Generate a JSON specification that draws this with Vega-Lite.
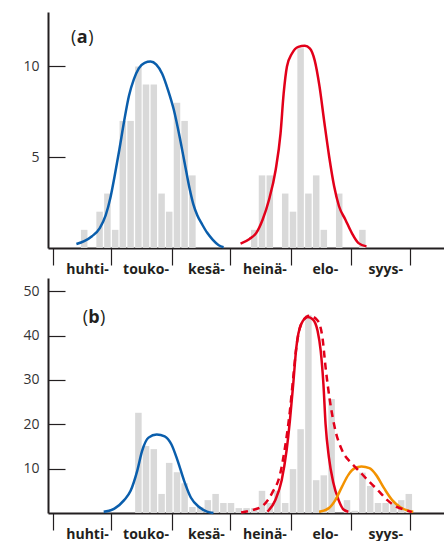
{
  "$schema": "https://vega.github.io/schema/vega-lite/v6.json",
  "padding": {"left": 22, "top": 12, "right": 0, "bottom": 0},
  "autosize": {"type": "pad"},
  "bounds": "flush",
  "spacing": 30,
  "config": {
    "view": {"stroke": null},
    "font": "Open Sans",
    "axis": {"grid": false, "domainColor": "#231f20", "domainWidth": 2, "tickColor": "#231f20", "tickWidth": 1.2, "labelColor": "#333333", "title": null}
  },
  "datasets": {
    "barsA": [
      {"day": 16.0, "n": 1}, {"day": 23.9, "n": 2}, {"day": 27.9, "n": 3}, {"day": 31.9, "n": 1},
      {"day": 35.8, "n": 7}, {"day": 39.8, "n": 7}, {"day": 43.8, "n": 10}, {"day": 47.7, "n": 9},
      {"day": 51.7, "n": 9}, {"day": 55.7, "n": 3}, {"day": 59.6, "n": 2}, {"day": 63.6, "n": 8},
      {"day": 67.5, "n": 7}, {"day": 71.5, "n": 4},
      {"day": 103.2, "n": 1}, {"day": 107.2, "n": 4}, {"day": 111.2, "n": 4}, {"day": 119.1, "n": 3},
      {"day": 123.1, "n": 2}, {"day": 127.0, "n": 11}, {"day": 131.0, "n": 3}, {"day": 135.0, "n": 4},
      {"day": 138.9, "n": 1}, {"day": 146.8, "n": 3}, {"day": 158.7, "n": 1}
    ],
    "barsB": [
      {"day": 43.8, "n": 22.6}, {"day": 47.7, "n": 15.1}, {"day": 51.7, "n": 14.4}, {"day": 55.7, "n": 4.3},
      {"day": 59.6, "n": 11.3}, {"day": 63.6, "n": 9.2}, {"day": 67.5, "n": 6.7}, {"day": 71.5, "n": 1.35},
      {"day": 75.5, "n": 1.35}, {"day": 79.4, "n": 2.9}, {"day": 83.4, "n": 4.3}, {"day": 87.4, "n": 2.25},
      {"day": 91.3, "n": 2.25}, {"day": 95.3, "n": 1.1}, {"day": 99.3, "n": 1.1}, {"day": 103.2, "n": 1.1},
      {"day": 107.2, "n": 5.0}, {"day": 111.2, "n": 2.25}, {"day": 115.1, "n": 5.0}, {"day": 119.1, "n": 2.25},
      {"day": 123.1, "n": 9.9}, {"day": 127.0, "n": 18.9}, {"day": 131.0, "n": 44.6}, {"day": 135.0, "n": 7.4},
      {"day": 138.9, "n": 8.5}, {"day": 142.9, "n": 25.7}, {"day": 150.8, "n": 2.9}, {"day": 154.8, "n": 0.5},
      {"day": 158.7, "n": 9.1}, {"day": 162.7, "n": 6.1}, {"day": 166.7, "n": 2.25}, {"day": 170.6, "n": 2.25},
      {"day": 174.6, "n": 2.25}, {"day": 178.6, "n": 2.9}, {"day": 182.5, "n": 4.3}
    ],
    "curvesA": [
      {"s": "blue", "day": 12, "v": 0.22}, {"s": "blue", "day": 16, "v": 0.38}, {"s": "blue", "day": 20, "v": 0.65},
      {"s": "blue", "day": 24, "v": 1.1}, {"s": "blue", "day": 27, "v": 1.8}, {"s": "blue", "day": 29.5, "v": 2.8},
      {"s": "blue", "day": 31.5, "v": 3.9}, {"s": "blue", "day": 34, "v": 5.4}, {"s": "blue", "day": 36.5, "v": 7.0},
      {"s": "blue", "day": 39, "v": 8.4}, {"s": "blue", "day": 41.5, "v": 9.3}, {"s": "blue", "day": 44, "v": 9.9},
      {"s": "blue", "day": 47, "v": 10.2}, {"s": "blue", "day": 50, "v": 10.27}, {"s": "blue", "day": 53, "v": 10.1},
      {"s": "blue", "day": 56, "v": 9.6}, {"s": "blue", "day": 59, "v": 8.7}, {"s": "blue", "day": 62, "v": 7.6},
      {"s": "blue", "day": 65, "v": 6.1}, {"s": "blue", "day": 67.5, "v": 4.7}, {"s": "blue", "day": 70, "v": 3.3},
      {"s": "blue", "day": 72, "v": 2.4}, {"s": "blue", "day": 74, "v": 1.8}, {"s": "blue", "day": 76.5, "v": 1.3},
      {"s": "blue", "day": 79, "v": 0.85}, {"s": "blue", "day": 82, "v": 0.45}, {"s": "blue", "day": 85, "v": 0.15},
      {"s": "blue", "day": 87.5, "v": 0.04},
      {"s": "red", "day": 96.2, "v": 0.24}, {"s": "red", "day": 100.8, "v": 0.5}, {"s": "red", "day": 104.2, "v": 0.82},
      {"s": "red", "day": 107.5, "v": 1.56}, {"s": "red", "day": 110.8, "v": 2.66}, {"s": "red", "day": 114.2, "v": 4.3},
      {"s": "red", "day": 116.7, "v": 6.3}, {"s": "red", "day": 118.3, "v": 8.5}, {"s": "red", "day": 120, "v": 10.0},
      {"s": "red", "day": 122.5, "v": 10.7}, {"s": "red", "day": 125.8, "v": 11.08}, {"s": "red", "day": 129.2, "v": 11.14},
      {"s": "red", "day": 131.7, "v": 11.0}, {"s": "red", "day": 134.2, "v": 10.35}, {"s": "red", "day": 136.7, "v": 8.9},
      {"s": "red", "day": 139.2, "v": 6.9}, {"s": "red", "day": 141.7, "v": 5.0}, {"s": "red", "day": 144.2, "v": 3.4},
      {"s": "red", "day": 146.7, "v": 2.3}, {"s": "red", "day": 150, "v": 1.56}, {"s": "red", "day": 153.3, "v": 0.82},
      {"s": "red", "day": 156.7, "v": 0.27}, {"s": "red", "day": 160.8, "v": 0.09}
    ],
    "curvesB": [
      {"s": "blue", "day": 26, "v": 0.3}, {"s": "blue", "day": 31.5, "v": 1.0}, {"s": "blue", "day": 36.5, "v": 2.9},
      {"s": "blue", "day": 39.8, "v": 5.0}, {"s": "blue", "day": 43.2, "v": 9.5}, {"s": "blue", "day": 45.7, "v": 14.0},
      {"s": "blue", "day": 49, "v": 17.0}, {"s": "blue", "day": 53.2, "v": 17.7}, {"s": "blue", "day": 57.3, "v": 17.3},
      {"s": "blue", "day": 60.7, "v": 15.5}, {"s": "blue", "day": 64, "v": 11.7}, {"s": "blue", "day": 67.3, "v": 7.2},
      {"s": "blue", "day": 70.7, "v": 3.5}, {"s": "blue", "day": 74.8, "v": 1.4}, {"s": "blue", "day": 79, "v": 0.3},
      {"s": "blue", "day": 82.3, "v": 0.0},
      {"s": "red", "day": 110, "v": 0.3}, {"s": "red", "day": 114, "v": 2.9}, {"s": "red", "day": 117.3, "v": 7.4},
      {"s": "red", "day": 119.8, "v": 14.1}, {"s": "red", "day": 121.5, "v": 20.8}, {"s": "red", "day": 123.2, "v": 29},
      {"s": "red", "day": 124.8, "v": 37.3}, {"s": "red", "day": 127.3, "v": 42.6}, {"s": "red", "day": 130.7, "v": 44.2},
      {"s": "red", "day": 133.2, "v": 43.7}, {"s": "red", "day": 135.7, "v": 41.1}, {"s": "red", "day": 137.3, "v": 36.6},
      {"s": "red", "day": 138.7, "v": 29.1}, {"s": "red", "day": 139.8, "v": 20.1}, {"s": "red", "day": 141.5, "v": 12.6},
      {"s": "red", "day": 143.7, "v": 7.0}, {"s": "red", "day": 146.5, "v": 2.9}, {"s": "red", "day": 149, "v": 0.8},
      {"s": "red", "day": 151.5, "v": 0.3},
      {"s": "orange", "day": 136.5, "v": 0.3}, {"s": "orange", "day": 141.5, "v": 1.1}, {"s": "orange", "day": 144.8, "v": 2.9},
      {"s": "orange", "day": 148.2, "v": 5.9}, {"s": "orange", "day": 151.5, "v": 8.6}, {"s": "orange", "day": 154.8, "v": 10.1},
      {"s": "orange", "day": 158.2, "v": 10.5}, {"s": "orange", "day": 162.3, "v": 10.1}, {"s": "orange", "day": 165.7, "v": 8.6},
      {"s": "orange", "day": 169.8, "v": 5.6}, {"s": "orange", "day": 174, "v": 2.9}, {"s": "orange", "day": 178.2, "v": 1.3},
      {"s": "orange", "day": 182.3, "v": 0.5}, {"s": "orange", "day": 184.8, "v": 0.3}
    ],
    "dashB": [
      {"day": 96.5, "v": 0.1}, {"day": 102.5, "v": 0.7}, {"day": 107.5, "v": 1.6}, {"day": 112.5, "v": 4.6},
      {"day": 116.5, "v": 8.8}, {"day": 119, "v": 14.8}, {"day": 121.5, "v": 23}, {"day": 123.2, "v": 30.5},
      {"day": 124.8, "v": 37.3}, {"day": 127.3, "v": 42.6}, {"day": 131.5, "v": 44.5}, {"day": 135.7, "v": 43.4},
      {"day": 138.2, "v": 39.6}, {"day": 139.8, "v": 32.9}, {"day": 142, "v": 25.4}, {"day": 144.8, "v": 18.7},
      {"day": 148.2, "v": 14.2}, {"day": 153.2, "v": 11.2}, {"day": 156.5, "v": 9.7}, {"day": 161.5, "v": 7.4},
      {"day": 166.5, "v": 5.2}, {"day": 171.5, "v": 2.9}, {"day": 176.5, "v": 1.3}, {"day": 180.7, "v": 0.7},
      {"day": 184, "v": 0.2}
    ],
    "lblA": [{"day": 15, "v": 11.3, "t": "a"}],
    "lblB": [{"day": 21, "v": 42.8, "t": "b"}]
  },
  "vconcat": [
    {
      "width": 397,
      "height": 236,
      "layer": [
        {
          "data": {"name": "barsA"},
          "mark": {"type": "bar", "size": 6.5, "color": "#d9d9d9"},
          "encoding": {
            "x": {"field": "day", "type": "quantitative",
              "scale": {"domain": [0, 198.5], "nice": false, "zero": false},
              "axis": {"values": [0, 30, 61, 91, 122, 153, 183], "tickSize": 17, "labelOffset": 34, "labelPadding": -3,
                "labelFlush": false, "labelOverlap": false, "labelFontWeight": "bold", "labelFontSize": 14, "labelColor": "#231f20",
                "labelExpr": "datum.value==0?'huhti-':datum.value==30?'touko-':datum.value==61?'kesä-':datum.value==91?'heinä-':datum.value==122?'elo-':datum.value==153?'syys-':''"}},
            "y": {"field": "n", "type": "quantitative",
              "scale": {"domain": [0, 13], "nice": false},
              "axis": {"values": [5, 10], "tickSize": -17, "labelPadding": 26, "labelFontSize": 14}}
          }
        },
        {
          "data": {"name": "curvesA"},
          "mark": {"type": "line", "interpolate": "monotone", "strokeWidth": 2.5},
          "encoding": {
            "x": {"field": "day", "type": "quantitative"},
            "y": {"field": "v", "type": "quantitative"},
            "color": {"field": "s", "type": "nominal", "scale": {"domain": ["blue", "red", "orange"], "range": ["#0a5eac", "#e2001a", "#f39200"]}, "legend": null}
          }
        },
        {
          "data": {"name": "lblA"},
          "mark": {"type": "text", "fontWeight": "bold", "fontSize": 18, "align": "center", "baseline": "alphabetic", "color": "#231f20"},
          "encoding": {"x": {"field": "day", "type": "quantitative"}, "y": {"field": "v", "type": "quantitative"}, "text": {"field": "t"}}
        },
        {
          "data": {"name": "lblA"},
          "mark": {"type": "text", "text": "(", "fontSize": 18, "align": "right", "dx": -6, "baseline": "alphabetic", "color": "#231f20"},
          "encoding": {"x": {"field": "day", "type": "quantitative"}, "y": {"field": "v", "type": "quantitative"}}
        },
        {
          "data": {"name": "lblA"},
          "mark": {"type": "text", "text": ")", "fontSize": 18, "align": "left", "dx": 6, "baseline": "alphabetic", "color": "#231f20"},
          "encoding": {"x": {"field": "day", "type": "quantitative"}, "y": {"field": "v", "type": "quantitative"}}
        }
      ]
    },
    {
      "width": 397,
      "height": 235,
      "layer": [
        {
          "data": {"name": "barsB"},
          "mark": {"type": "bar", "size": 6.5, "color": "#d9d9d9"},
          "encoding": {
            "x": {"field": "day", "type": "quantitative",
              "scale": {"domain": [0, 198.5], "nice": false, "zero": false},
              "axis": {"values": [0, 30, 61, 91, 122, 153, 183], "tickSize": 17, "labelOffset": 34, "labelPadding": -3,
                "labelFlush": false, "labelOverlap": false, "labelFontWeight": "bold", "labelFontSize": 14, "labelColor": "#231f20",
                "labelExpr": "datum.value==0?'huhti-':datum.value==30?'touko-':datum.value==61?'kesä-':datum.value==91?'heinä-':datum.value==122?'elo-':datum.value==153?'syys-':''"}},
            "y": {"field": "n", "type": "quantitative",
              "scale": {"domain": [0, 53], "nice": false},
              "axis": {"values": [10, 20, 30, 40, 50], "tickSize": -17, "labelPadding": 26, "labelFontSize": 14}}
          }
        },
        {
          "data": {"name": "curvesB"},
          "mark": {"type": "line", "interpolate": "monotone", "strokeWidth": 2.5},
          "encoding": {
            "x": {"field": "day", "type": "quantitative"},
            "y": {"field": "v", "type": "quantitative"},
            "color": {"field": "s", "type": "nominal", "scale": {"domain": ["blue", "red", "orange"], "range": ["#0a5eac", "#e2001a", "#f39200"]}, "legend": null}
          }
        },
        {
          "data": {"name": "dashB"},
          "mark": {"type": "line", "interpolate": "monotone", "strokeWidth": 2.5, "color": "#e2001a", "strokeDash": [7, 5]},
          "encoding": {
            "x": {"field": "day", "type": "quantitative"},
            "y": {"field": "v", "type": "quantitative"}
          }
        },
        {
          "data": {"name": "lblB"},
          "mark": {"type": "text", "fontWeight": "bold", "fontSize": 18, "align": "center", "baseline": "alphabetic", "color": "#231f20"},
          "encoding": {"x": {"field": "day", "type": "quantitative"}, "y": {"field": "v", "type": "quantitative"}, "text": {"field": "t"}}
        },
        {
          "data": {"name": "lblB"},
          "mark": {"type": "text", "text": "(", "fontSize": 18, "align": "right", "dx": -6, "baseline": "alphabetic", "color": "#231f20"},
          "encoding": {"x": {"field": "day", "type": "quantitative"}, "y": {"field": "v", "type": "quantitative"}}
        },
        {
          "data": {"name": "lblB"},
          "mark": {"type": "text", "text": ")", "fontSize": 18, "align": "left", "dx": 6, "baseline": "alphabetic", "color": "#231f20"},
          "encoding": {"x": {"field": "day", "type": "quantitative"}, "y": {"field": "v", "type": "quantitative"}}
        }
      ]
    }
  ]
}
